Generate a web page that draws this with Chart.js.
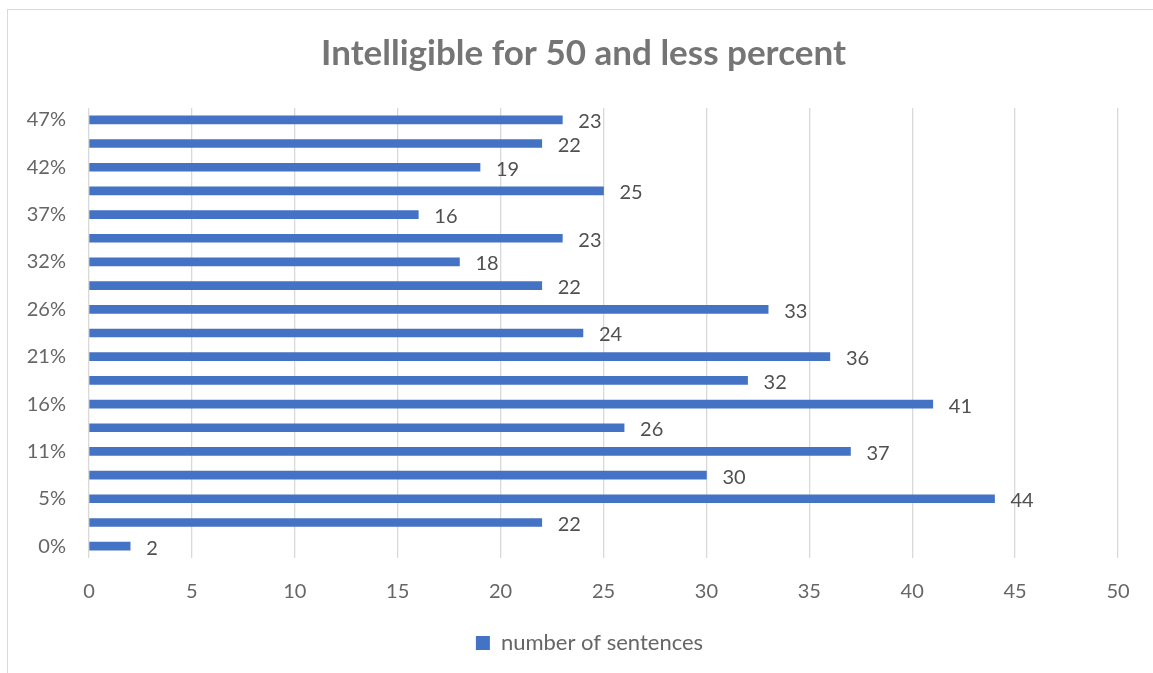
<!DOCTYPE html>
<html>
<head>
<meta charset="utf-8">
<script src="https://cdn.jsdelivr.net/npm/chart.js@4/dist/chart.umd.min.js"></script>
<style>
  html, body { margin: 0; padding: 0; background: #ffffff; overflow: hidden; }
  #frame { position: absolute; left: 7px; top: 9px; width: 1170px; height: 700px;
           border: 1px solid #d9d9d9; box-sizing: border-box; }
  #chart { position: absolute; left: 0; top: 0; }
</style>
</head>
<body>
<div id="frame"></div>
<canvas id="chart" width="1153" height="673"></canvas>
<script>
// Share of intelligible words per sentence (bottom to top) and how many sentences fall in each bucket
const shares = ['0%', '3%', '5%', '8%', '11%', '13%', '16%', '18%', '21%', '24%',
                '26%', '29%', '32%', '34%', '37%', '39%', '42%', '45%', '47%'];
const sentences = [2, 22, 44, 30, 37, 26, 41, 32, 36, 24, 33, 22, 18, 23, 16, 25, 19, 22, 23];
const seriesName = 'number of sentences';
const chartTitle = 'Intelligible for 50 and less percent';

const FONT = 'Lato, "Open Sans", sans-serif';
const BAR = '#4472C4';
const FRAME_LEFT = 7, FRAME_RIGHT = 1160;

// Title centred over the whole chart frame rather than the plot
const frameTitle = {
  id: 'frameTitle',
  afterDraw(chart) {
    const ctx = chart.ctx;
    ctx.save();
    ctx.font = 'bold 35px ' + FONT;
    ctx.fillStyle = '#757575';
    ctx.textAlign = 'center';
    ctx.textBaseline = 'alphabetic';
    ctx.fillText(chartTitle, (FRAME_LEFT + FRAME_RIGHT) / 2, 65);
    ctx.restore();
  }
};

// Centre the legend on the frame as well
const frameLegend = {
  id: 'frameLegend',
  afterLayout(chart) {
    chart.legend.left = FRAME_LEFT + 6;
    chart.legend.right = FRAME_RIGHT + 6;
  }
};

// Writes each bar's value just past its end
const valueLabels = {
  id: 'valueLabels',
  afterDatasetsDraw(chart) {
    const ctx = chart.ctx;
    const meta = chart.getDatasetMeta(0);
    ctx.save();
    ctx.font = '20px ' + FONT;
    ctx.fillStyle = '#505050';
    ctx.textAlign = 'left';
    ctx.textBaseline = 'middle';
    meta.data.forEach((bar, i) => {
      ctx.fillText(String(chart.data.datasets[0].data[i]), bar.x + 16, bar.y + 2);
    });
    ctx.restore();
  }
};

new Chart(document.getElementById('chart'), {
  type: 'bar',
  data: {
    labels: shares,
    datasets: [{
      label: seriesName,
      data: sentences,
      backgroundColor: BAR,
      borderWidth: 0,
      barThickness: 8
    }]
  },
  options: {
    indexAxis: 'y',
    responsive: false,
    animation: false,
    devicePixelRatio: 1,
    layout: { padding: { left: 0, right: 35, top: 108, bottom: 9 } },
    plugins: {
      title: { display: false },
      legend: {
        position: 'bottom',
        labels: {
          color: '#666666',
          font: { family: FONT, size: 22 },
          boxWidth: 14,
          boxHeight: 14,
          padding: 6
        }
      },
      tooltip: { enabled: false }
    },
    scales: {
      x: {
        min: 0,
        max: 50,
        ticks: { stepSize: 5, color: '#666666', font: { family: FONT, size: 20 }, padding: 22 },
        grid: { color: '#d9d9d9', lineWidth: 1.3, drawTicks: false },
        border: { display: false }
      },
      y: {
        reverse: true,
        afterFit(scale) { scale.width = 89; },
        ticks: {
          autoSkip: false,
          color: '#666666',
          font: { family: FONT, size: 20 },
          padding: 23,
          callback(value, index) { return index % 2 === 0 ? shares[index] : ''; }
        },
        grid: { display: false, drawTicks: false },
        border: { display: false }
      }
    }
  },
  plugins: [valueLabels, frameTitle, frameLegend]
});
</script>
</body>
</html>
